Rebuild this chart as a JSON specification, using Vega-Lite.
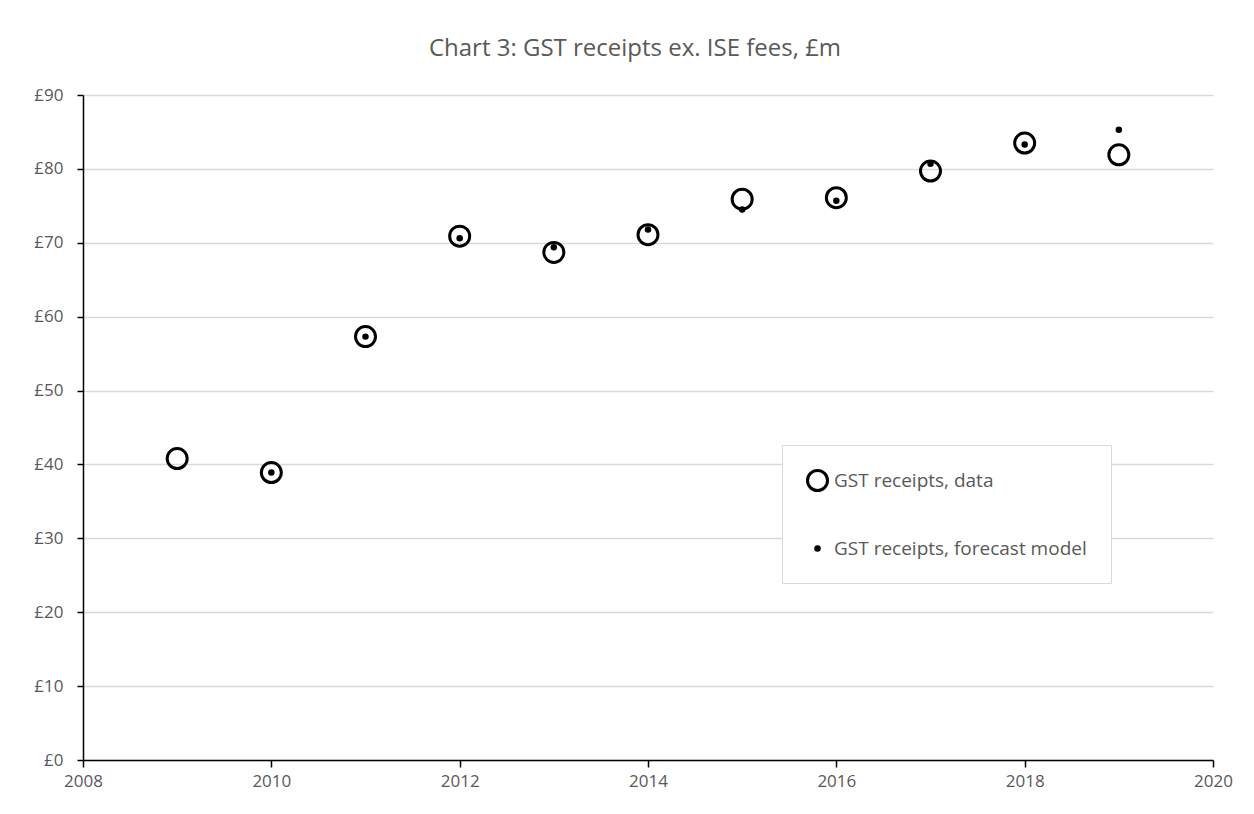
{
  "$schema": "https://vega.github.io/schema/vega-lite/v6.json",
  "autosize": "none",
  "padding": {"left": 83, "top": 95, "right": 41, "bottom": 54},
  "width": 1130,
  "height": 665,
  "background": "white",
  "config": {
    "view": {"stroke": null},
    "font": "Open Sans"
  },
  "title": {
    "text": "Chart 3: GST receipts ex. ISE fees, £m",
    "fontSize": 24,
    "fontWeight": "normal",
    "color": "#595959",
    "anchor": "middle",
    "frame": "group",
    "dx": -13,
    "offset": 25,
    "font": "Open Sans"
  },
  "data": {
    "values": [
      {"year": 2009, "series": "GST receipts, data", "value": 40.8},
      {"year": 2010, "series": "GST receipts, data", "value": 38.9},
      {"year": 2011, "series": "GST receipts, data", "value": 57.3},
      {"year": 2012, "series": "GST receipts, data", "value": 70.9},
      {"year": 2013, "series": "GST receipts, data", "value": 68.7},
      {"year": 2014, "series": "GST receipts, data", "value": 71.1},
      {"year": 2015, "series": "GST receipts, data", "value": 75.9},
      {"year": 2016, "series": "GST receipts, data", "value": 76.1},
      {"year": 2017, "series": "GST receipts, data", "value": 79.7},
      {"year": 2018, "series": "GST receipts, data", "value": 83.5},
      {"year": 2019, "series": "GST receipts, data", "value": 81.9},
      {"year": 2010, "series": "GST receipts, forecast model", "value": 38.9},
      {"year": 2011, "series": "GST receipts, forecast model", "value": 57.3},
      {"year": 2012, "series": "GST receipts, forecast model", "value": 70.6},
      {"year": 2013, "series": "GST receipts, forecast model", "value": 69.4},
      {"year": 2014, "series": "GST receipts, forecast model", "value": 71.8},
      {"year": 2015, "series": "GST receipts, forecast model", "value": 74.5},
      {"year": 2016, "series": "GST receipts, forecast model", "value": 75.7},
      {"year": 2017, "series": "GST receipts, forecast model", "value": 80.7},
      {"year": 2018, "series": "GST receipts, forecast model", "value": 83.3},
      {"year": 2019, "series": "GST receipts, forecast model", "value": 85.3}
    ]
  },
  "mark": {"type": "point", "shape": "circle", "stroke": "black", "opacity": 1},
  "encoding": {
    "x": {
      "field": "year",
      "type": "quantitative",
      "scale": {"domain": [2008, 2020], "nice": false, "zero": false},
      "axis": {
        "title": null,
        "values": [2008, 2010, 2012, 2014, 2016, 2018, 2020],
        "format": "d",
        "grid": false,
        "domainColor": "black",
        "domainWidth": 1.5,
        "tickColor": "black",
        "tickWidth": 1.5,
        "tickSize": 7,
        "labelColor": "#595959",
        "labelFontSize": 17,
        "labelPadding": 6,
        "labelFlush": false
      }
    },
    "y": {
      "field": "value",
      "type": "quantitative",
      "scale": {"domain": [0, 90], "nice": false},
      "axis": {
        "title": null,
        "values": [0, 10, 20, 30, 40, 50, 60, 70, 80, 90],
        "labelExpr": "'£' + datum.value",
        "grid": true,
        "gridColor": "#d9d9d9",
        "gridWidth": 1.5,
        "domainColor": "black",
        "domainWidth": 1.5,
        "tickColor": "black",
        "tickWidth": 1.5,
        "tickSize": 6,
        "labelColor": "#595959",
        "labelFontSize": 17,
        "labelPadding": 14
      }
    },
    "fill": {
      "field": "series",
      "type": "nominal",
      "scale": {"domain": ["GST receipts, data", "GST receipts, forecast model"], "range": ["transparent", "black"]},
      "legend": {
        "title": null,
        "orient": "none",
        "legendX": 699,
        "legendY": 350,
        "padding": 24,
        "rowPadding": 42,
        "labelFontSize": 19,
        "labelLimit": 400,
        "labelColor": "#595959",
        "labelOffset": 5,
        "strokeColor": "#d9d9d9",
        "fillColor": "white",
        "symbolType": "circle",
        "symbolStrokeColor": "black"
      }
    },
    "size": {
      "field": "series",
      "type": "nominal",
      "scale": {"domain": ["GST receipts, data", "GST receipts, forecast model"], "range": [400, 42]}
    },
    "strokeWidth": {
      "field": "series",
      "type": "nominal",
      "scale": {"domain": ["GST receipts, data", "GST receipts, forecast model"], "range": [3, 0]}
    }
  }
}
